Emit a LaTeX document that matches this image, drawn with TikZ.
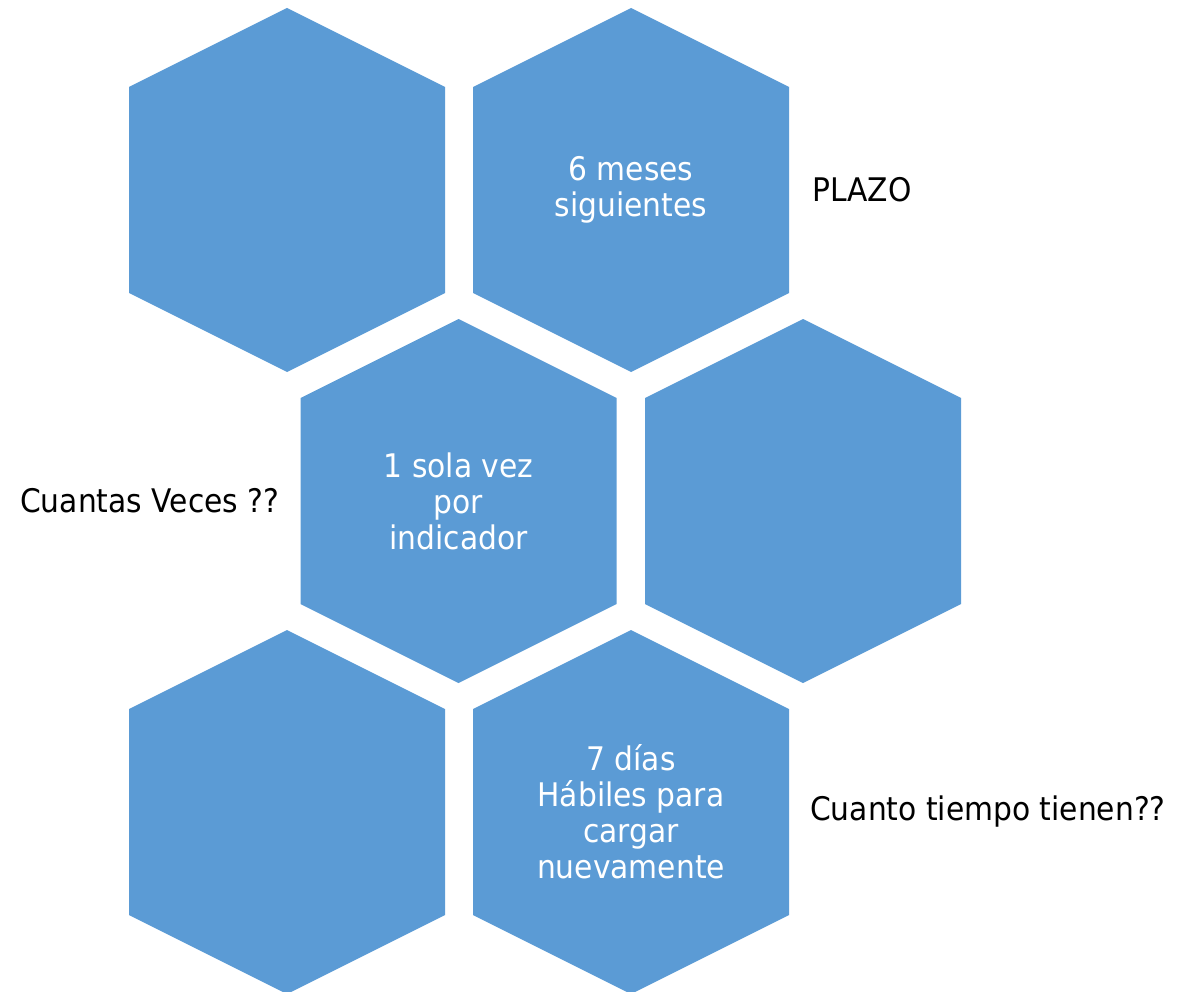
\documentclass[tikz,border=0pt]{standalone}
\usepackage{fontspec}
\setmainfont{DejaVu Sans}[FakeStretch=0.915]
\definecolor{hexblue}{HTML}{5B9BD5}
\begin{document}
\begin{tikzpicture}[x=1pt,y=-1pt,
  hexfill/.style={fill=hexblue},
  hextext/.style={text=white,align=center,inner sep=0pt,font=\fontsize{32.5}{36}\selectfont},
  sidetext/.style={text=black,inner sep=0pt,font=\fontsize{32.5}{36}\selectfont}]
\useasboundingbox (0,0) rectangle (1182,992);
\begin{scope}
\clip (0,0) rectangle (1182,992);
\foreach \n/\x/\y in {h1/287/190, h2/631/190, h3/458.5/501, h4/803/501, h5/287/812, h6/631/812} {
  \coordinate (\n) at (\x,\y);
  \fill[hexfill, shift={(\x,\y)}] (0,-182) -- (158,-103) -- (158,103) -- (0,182) -- (-158,103) -- (-158,-103) -- cycle;
}
\end{scope}
\node[hextext] (t2) at (h2) {6 meses\\siguientes};
\node[hextext] (t3) at (h3) {1 sola vez\\por\\indicador};
\node[hextext] (t6) at (h6) {7 días\\Hábiles para\\cargar\\nuevamente};
\node[sidetext, anchor=west] (plazo) at (812,190) {PLAZO};
\node[sidetext, anchor=west] (veces) at (20,501) {Cuantas Veces ??};
\node[sidetext, anchor=west] (tiempo) at (810,812) {Cuanto tiempo tienen??};
\end{tikzpicture}
\end{document}
